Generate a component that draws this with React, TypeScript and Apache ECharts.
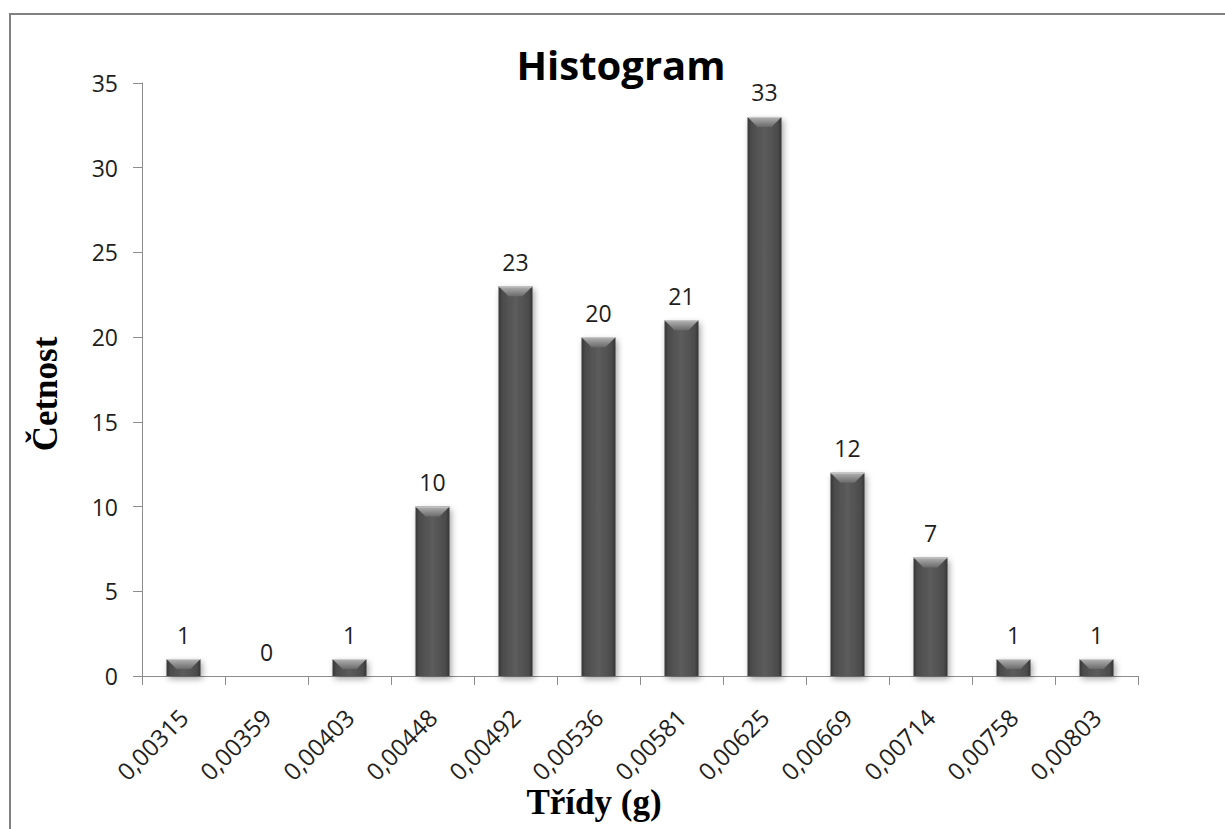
import React, { useEffect, useRef } from "react";
import * as echarts from "echarts";

const categories = ["0,00315", "0,00359", "0,00403", "0,00448", "0,00492", "0,00536", "0,00581", "0,00625", "0,00669", "0,00714", "0,00758", "0,00803"];
const counts = [1, 0, 1, 10, 23, 20, 21, 33, 12, 7, 1, 1];
const yTicks = { min: 0, max: 35, interval: 5 };
const titleText = "Histogram";
const xName = "Třídy (g)";
const yName = "Četnost";

export default function App() {
  const ref = useRef<HTMLDivElement>(null);
  useEffect(() => {
    if (!ref.current) return;
    const chart = echarts.init(ref.current, null, { renderer: "svg" });
    const sans = "'Open Sans', 'Noto Sans', sans-serif";
    const serif = "'Liberation Serif', 'DejaVu Serif', serif";
    const barW = 34;
    chart.setOption({
      animation: false,
      backgroundColor: "#fff",
      grid: { left: 142, top: 83, right: 87, bottom: 153 },
      xAxis: {
        type: "category",
        data: categories,
        axisLine: { lineStyle: { color: "#8c8c8c", width: 1 } },
        axisTick: { show: true, length: 9, lineStyle: { color: "#8c8c8c" } },
        axisLabel: { rotate: 45, fontFamily: sans, fontSize: 24, color: "#1e1e1e", margin: 37 },
      },
      yAxis: {
        type: "value",
        min: yTicks.min,
        max: yTicks.max,
        interval: yTicks.interval,
        axisLine: { show: true, lineStyle: { color: "#8c8c8c", width: 1 } },
        axisTick: { show: true, length: 9, lineStyle: { color: "#8c8c8c" } },
        splitLine: { show: false },
        axisLabel: { fontFamily: sans, fontSize: 23, color: "#1e1e1e", margin: 24 },
      },
      graphic: [
        { type: "rect", shape: { x: 10, y: 14, width: 1400, height: 1000 }, style: { fill: "none", stroke: "#808080", lineWidth: 2 }, z: 100, silent: true },
        { type: "text", x: 621, y: 64, style: { text: titleText, font: `bold 40px ${sans}`, fill: "#000", textAlign: "center", textVerticalAlign: "middle" } },
        { type: "text", x: 594, y: 802, style: { text: xName, font: `bold 35px ${serif}`, fill: "#000", textAlign: "center", textVerticalAlign: "middle" } },
        { type: "text", x: 45, y: 394, rotation: Math.PI / 2, style: { text: yName, font: `bold 35px ${serif}`, fill: "#000", textAlign: "center", textVerticalAlign: "middle" } },
      ],
      series: [
        {
          type: "bar",
          data: counts,
          barWidth: barW,
          itemStyle: {
            color: new echarts.graphic.LinearGradient(0, 0, 1, 0, [
              { offset: 0, color: "#363636" },
              { offset: 0.12, color: "#4c4c4c" },
              { offset: 0.5, color: "#5c5c5c" },
              { offset: 0.88, color: "#4c4c4c" },
              { offset: 1, color: "#343434" },
            ]),
            shadowColor: "rgba(0,0,0,0.35)",
            shadowBlur: 6,
            shadowOffsetX: 2,
            shadowOffsetY: 3,
          },
          label: { show: true, position: "top", distance: 13, fontFamily: sans, fontSize: 23, color: "#1e1e1e" },
          z: 2,
        },
        {
          type: "custom",
          data: counts.map((v, i) => [i, v]),
          z: 3,
          silent: true,
          renderItem: (params: any, api: any) => {
            const v = api.value(1);
            if (!v) return null;
            const top = api.coord([api.value(0), v]);
            const bot = api.coord([api.value(0), 0]);
            const h = Math.min(10, bot[1] - top[1]);
            const x0 = top[0] - barW / 2;
            const x1 = top[0] + barW / 2;
            const y = top[1];
            return {
              type: "group",
              children: [
                {
                  type: "polygon",
                  shape: { points: [[x0, y], [x1, y], [x1 - h, y + h], [x0 + h, y + h]] },
                  style: {
                    fill: new echarts.graphic.LinearGradient(0, 0, 0, 1, [
                      { offset: 0, color: "#b4b4b4" },
                      { offset: 1, color: "#6a6a6a" },
                    ]),
                  },
                },
                { type: "line", shape: { x1: x0, y1: y + 0.5, x2: x1, y2: y + 0.5 }, style: { stroke: "#cccccc", lineWidth: 1 } },
              ],
            };
          },
        },
      ],
    });
    return () => chart.dispose();
  }, []);
  return <div ref={ref} style={{ position: "fixed", left: 0, top: 0, width: 1225, height: 829 }} />;
}
